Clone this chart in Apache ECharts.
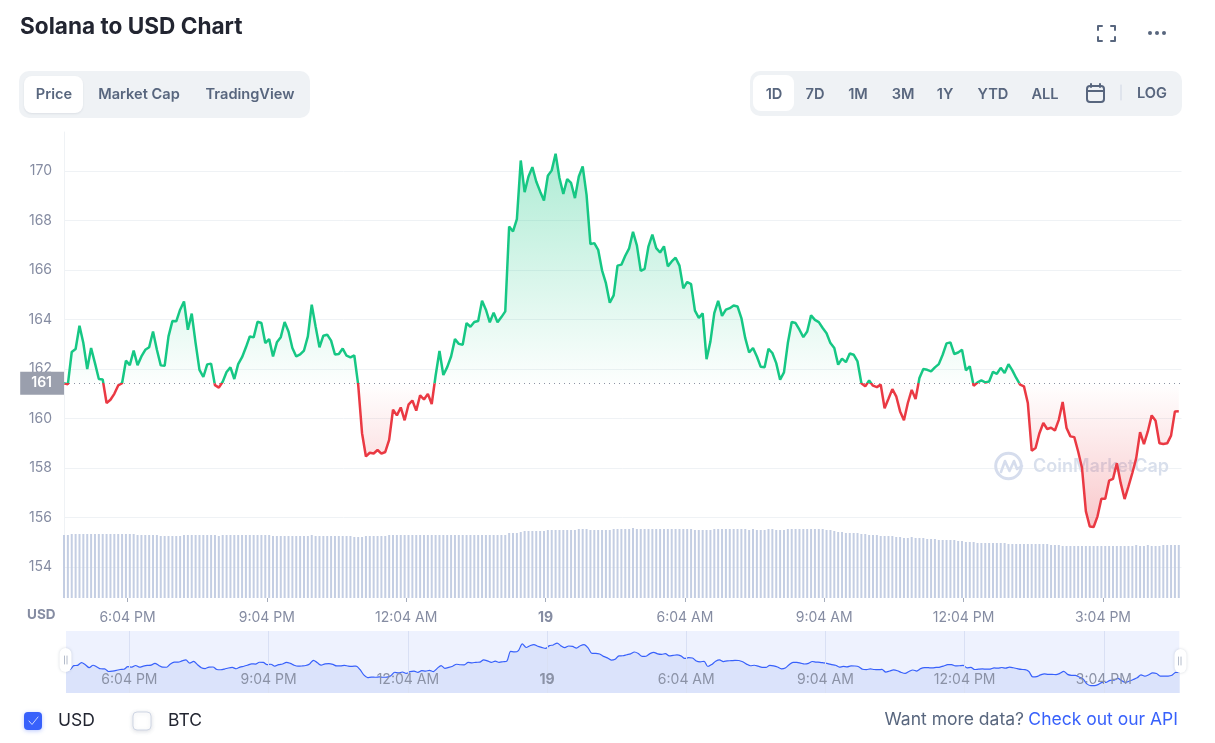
<!DOCTYPE html>
<html>
<head>
<meta charset="utf-8">
<title>Solana to USD Chart</title>
<script src="https://cdn.jsdelivr.net/npm/echarts@6/dist/echarts.min.js"></script>
<style>html,body{margin:0;padding:0;background:#fff;overflow:hidden}#c{width:1215px;height:743px}</style>
</head>
<body>
<div id="c"></div>
<script>
const prices = [
161.43,161.38,162.69,162.81,163.75,163.05,162.0,162.85,162.24,161.6,
161.58,160.63,160.76,161.0,161.34,161.43,162.34,162.16,162.75,162.16,
162.51,162.78,162.88,163.52,162.78,162.15,162.13,163.32,163.94,163.93,
164.4,164.73,163.59,164.24,163.05,161.97,161.68,162.19,162.22,161.35,
161.25,161.49,161.88,162.07,161.6,162.2,162.48,162.88,163.32,163.28,
163.91,163.86,163.05,163.21,162.51,163.08,163.29,163.9,163.52,162.85,
162.51,162.59,162.75,163.32,164.6,163.72,162.88,163.35,163.39,163.15,
162.59,162.61,162.83,162.54,162.47,162.55,161.37,159.41,158.47,158.62,
158.59,158.73,158.58,158.65,159.14,160.36,160.13,160.45,159.93,160.56,
160.73,160.32,160.94,160.77,161.0,160.59,161.73,162.73,161.76,162.08,
162.51,163.21,163.02,162.98,163.86,163.71,163.9,163.94,164.76,164.4,
163.89,164.28,163.89,164.1,164.33,167.76,167.56,168.06,170.43,169.15,
169.78,170.16,169.58,169.18,168.81,169.81,170.03,170.7,169.72,169.08,
169.68,169.52,168.91,169.78,170.19,169.04,167.05,167.09,166.82,165.99,
165.47,164.68,164.98,166.18,166.22,166.58,166.88,167.55,167.0,165.97,
166.05,166.96,167.43,166.89,166.71,166.96,166.15,166.35,166.5,166.18,
165.26,165.52,165.43,164.36,164.07,164.25,162.4,163.12,164.26,164.76,
164.15,164.4,164.46,164.57,164.53,164.06,163.25,162.67,162.85,162.51,
162.09,162.07,162.82,162.65,162.24,161.57,161.87,163.05,163.9,163.86,
163.59,163.29,163.52,164.17,163.99,163.90,163.66,163.45,163.05,162.85,
162.18,162.42,162.28,162.63,162.58,162.31,161.43,161.30,161.54,161.33,
161.27,161.37,160.42,160.80,161.19,160.90,160.29,159.93,160.63,161.16,
160.79,161.64,162.0,161.97,161.91,162.07,162.2,162.58,163.04,163.08,
162.61,162.67,162.78,161.95,162.11,161.33,161.46,161.54,161.46,161.5,
161.89,161.81,162.05,161.84,162.2,161.95,161.64,161.37,161.3,160.63,
158.7,158.81,159.41,159.82,159.58,159.63,159.52,159.95,160.67,159.62,
159.28,159.25,158.67,158.0,156.25,155.64,155.62,156.05,156.76,156.76,
157.49,157.56,158.2,157.39,156.75,157.26,157.8,158.4,159.45,158.97,
159.48,160.13,159.91,159.0,158.97,159.0,159.31,160.29,160.3
];
const volumes = [
3.15,3.15,3.2,3.2,3.2,3.2,3.2,3.2,3.2,3.2,
3.2,3.2,3.2,3.2,3.2,3.2,3.2,3.2,3.2,3.15,
3.15,3.15,3.15,3.15,3.15,3.1,3.1,3.1,3.1,3.1,
3.1,3.15,3.15,3.15,3.15,3.15,3.15,3.15,3.15,3.15,
3.1,3.15,3.15,3.15,3.15,3.15,3.15,3.15,3.15,3.15,
3.15,3.15,3.15,3.15,3.1,3.1,3.1,3.1,3.1,3.1,
3.1,3.1,3.1,3.1,3.15,3.1,3.1,3.1,3.1,3.1,
3.1,3.1,3.1,3.1,3.1,3.05,3.05,3.05,3.1,3.1,
3.1,3.1,3.1,3.1,3.15,3.15,3.15,3.15,3.15,3.15,
3.15,3.15,3.15,3.15,3.15,3.15,3.15,3.15,3.15,3.15,
3.15,3.15,3.15,3.15,3.15,3.15,3.15,3.15,3.15,3.15,
3.15,3.15,3.15,3.15,3.15,3.25,3.25,3.25,3.3,3.35,
3.35,3.35,3.35,3.35,3.35,3.4,3.4,3.4,3.4,3.4,
3.4,3.4,3.4,3.45,3.45,3.45,3.4,3.4,3.4,3.4,
3.4,3.4,3.45,3.45,3.45,3.45,3.45,3.5,3.45,3.45,
3.45,3.45,3.45,3.45,3.45,3.45,3.45,3.45,3.45,3.45,
3.45,3.45,3.45,3.4,3.4,3.4,3.4,3.4,3.45,3.45,
3.45,3.45,3.45,3.45,3.45,3.45,3.45,3.4,3.45,3.4,
3.4,3.4,3.45,3.45,3.4,3.4,3.4,3.45,3.45,3.45,
3.45,3.45,3.45,3.45,3.45,3.45,3.45,3.4,3.4,3.35,
3.3,3.3,3.25,3.25,3.25,3.25,3.2,3.2,3.15,3.15,
3.15,3.1,3.1,3.1,3.1,3.05,3.05,3.0,3.0,3.05,
3.0,3.0,3.0,2.95,2.95,2.95,2.9,2.9,2.9,2.9,
2.9,2.85,2.85,2.8,2.8,2.8,2.75,2.75,2.75,2.75,
2.75,2.75,2.75,2.75,2.7,2.7,2.7,2.7,2.7,2.7,
2.7,2.7,2.7,2.7,2.7,2.65,2.65,2.65,2.6,2.6,
2.6,2.6,2.6,2.6,2.6,2.6,2.6,2.6,2.6,2.6,
2.6,2.6,2.6,2.6,2.6,2.6,2.6,2.65,2.6,2.6,
2.65,2.6,2.6,2.6,2.65,2.65,2.65,2.65,2.65
];
const tickMinutes = [1084,1264,1444,1624,1804,1984,2164,2344];
const tickLabels = ['6:04 PM','9:04 PM','12:04 AM','19','6:04 AM','9:04 AM','12:04 PM','3:04 PM'];
const priceTicks = [154,156,158,160,162,164,166,168,170];
const baseline = 161.43;
const startMinute = 1002;

const pricePts = prices.map((v,i)=>[startMinute+i*5,v]);
const volumePts = volumes.map((v,i)=>[startMinute+i*5,v]);
const fmtX = v => { const i = tickMinutes.indexOf(Math.round(v)); const s = i<0?'':tickLabels[i]; return s==='19'?'{b|19}':s; };

const INK='#222531', SLATE='#58667e', GREY='#858ca2', PANEL='#eff2f5', BLUE='#3861fb';
const txt=(t,x,y,font,fill,align)=>({type:'text',silent:true,z:10,style:{text:t,x,y,font,fill,align:align||'center',verticalAlign:'middle'}});
const box=(x,y,w,h,r,fill,extra)=>({type:'rect',silent:true,z:9,shape:{x,y,width:w,height:h,r},style:Object.assign({fill},extra||{})});
const seg=(x1,y1,x2,y2,stroke,lw)=>({type:'line',silent:true,z:10,shape:{x1,y1,x2,y2},style:{stroke,lineWidth:lw||1,lineCap:'round'}});
const poly=(points,stroke,lw,z)=>({type:'polyline',silent:true,z:z||10,shape:{points},style:{stroke,lineWidth:lw||2,fill:null,lineJoin:'round',lineCap:'round'}});
const tab='600 14.6px Inter';
const graphics=[
  txt('Solana to USD Chart',20,27,'700 22.6px Inter',INK,'left'),
  poly([[1098,30],[1098,26],[1102,26]],SLATE,2),poly([[1111,26],[1115,26],[1115,30]],SLATE,2),
  poly([[1098,37],[1098,41],[1102,41]],SLATE,2),poly([[1111,41],[1115,41],[1115,37]],SLATE,2),
  {type:'circle',silent:true,z:10,shape:{cx:1150,cy:33,r:2},style:{fill:SLATE}},
  {type:'circle',silent:true,z:10,shape:{cx:1157,cy:33,r:2},style:{fill:SLATE}},
  {type:'circle',silent:true,z:10,shape:{cx:1164,cy:33,r:2},style:{fill:SLATE}},
  box(19,71,291,47,10,PANEL),
  box(24,76,59,37,8,'#fff',{shadowBlur:2,shadowColor:'rgba(88,102,126,.12)',shadowOffsetY:1}),
  txt('Price',54,95,tab,SLATE),txt('Market Cap',139,95,tab,SLATE),txt('TradingView',250,95,tab,SLATE),
  box(750,71,432,45,10,PANEL),
  box(753,75,41,36,8,'#fff'),
  txt('1D',774,94.5,tab,SLATE),txt('7D',815,94.5,tab,SLATE),txt('1M',858,94.5,tab,SLATE),
  txt('3M',903,94.5,tab,SLATE),txt('1Y',945,94.5,tab,SLATE),txt('YTD',993,94.5,tab,SLATE),
  txt('ALL',1045,94.5,tab,SLATE),txt('LOG',1152,93.5,tab,SLATE),
  seg(1121,85,1121,100,'#cfd6e4',1),
  {type:'rect',silent:true,z:10,shape:{x:1087,y:86,width:17,height:16,r:3},style:{fill:null,stroke:SLATE,lineWidth:2}},
  seg(1087,91,1104,91,SLATE,2),seg(1091,84,1091,87,SLATE,2),seg(1100,84,1100,87,SLATE,2),
  txt('USD',27,615,'700 13.5px Inter',GREY,'left'),
  {type:'circle',silent:true,z:1,shape:{cx:1008.5,cy:466,r:12.8},style:{fill:null,stroke:'#d6dded',lineWidth:3}},
  poly([[1001,472],[1005,461],[1009.5,471],[1014,461],[1017,469],[1022,466]],'#d6dded',2.6,1),
  {type:'text',silent:true,z:1,style:{text:'CoinMarketCap',x:1033,y:467,font:'600 18px Inter',fill:'#d8dfec',align:'left',verticalAlign:'middle'}},
  box(59.5,648,12,24,6,'#fff',{shadowBlur:3,shadowColor:'rgba(88,102,126,.25)'}),
  seg(64.5,656,64.5,664,'#b4bccb',1),seg(67,656,67,664,'#b4bccb',1),
  box(1174.5,649,12,24,6,'#fff',{shadowBlur:3,shadowColor:'rgba(88,102,126,.25)'}),
  seg(1178.5,657,1178.5,665,'#b4bccb',1),seg(1181,657,1181,665,'#b4bccb',1),
  box(24,712,18,18,4,BLUE,{shadowBlur:4,shadowColor:'rgba(56,97,251,.35)',shadowOffsetY:1}),
  poly([[29,721],[32,724.5],[38,717]],'#cdd8ff',1),
  txt('USD',58,721,'400 17.5px Inter',INK,'left'),
  box(133,712,18,18,4,'#fff',{stroke:'#cfd6e4',lineWidth:1,shadowBlur:4,shadowColor:'rgba(88,102,126,.2)',shadowOffsetY:1}),
  txt('BTC',168,721,'400 17.5px Inter',INK,'left'),
  txt('Want more data?',1024,720,'400 17.5px Inter',SLATE,'right'),
  txt('Check out our API',1178,720,'400 17.5px Inter',BLUE,'right')
];

const chart=echarts.init(document.getElementById('c'));
chart.setOption({
  animation:false,
  backgroundColor:'#fff',
  textStyle:{fontFamily:'Inter'},
  grid:[
    {left:64,top:132,width:1117.5,height:466},
    {left:66,top:631,width:1113.3,height:62,show:true,backgroundColor:'#eef2fe',borderWidth:0}
  ],
  xAxis:[
    {type:'value',gridIndex:0,min:1002,max:2445.5,splitLine:{show:false},axisLine:{show:false},
     axisTick:{show:true,length:4,lineStyle:{color:'#a5acbb'},customValues:tickMinutes},
     axisLabel:{customValues:tickMinutes,formatter:fmtX,color:GREY,fontSize:14,fontFamily:'Inter',margin:13,hideOverlap:false,
       rich:{b:{fontWeight:700,fontSize:14,color:GREY,fontFamily:'Inter'}}}},
    {type:'value',gridIndex:1,min:1002,max:2441.5,z:5,axisLine:{show:false},
     axisTick:{show:false,customValues:tickMinutes},
     splitLine:{show:true,lineStyle:{color:'#d9e0f4',width:1}},
     axisLabel:{customValues:tickMinutes,inside:true,formatter:fmtX,color:'#8b92a6',fontSize:14,fontFamily:'Inter',margin:6,hideOverlap:false,
       rich:{b:{fontWeight:700,fontSize:14,color:'#8b92a6',fontFamily:'Inter'}}}}
  ],
  yAxis:[
    {type:'value',gridIndex:0,min:152.75,max:171.58,
     axisLine:{show:true,lineStyle:{color:PANEL}},
     axisTick:{show:false,customValues:priceTicks},
     splitLine:{show:true,lineStyle:{color:PANEL,width:1}},
     axisLabel:{customValues:priceTicks,color:GREY,fontSize:14,fontFamily:'Inter',margin:12,padding:[4,0,0,0]}},
    {type:'value',gridIndex:0,min:0,max:23.3,show:false,splitLine:{show:false}},
    {type:'value',gridIndex:1,min:153,max:175,show:false,splitLine:{show:false}}
  ],
  graphic:graphics,
  series:[
    {type:'bar',name:'Volume',xAxisIndex:0,yAxisIndex:1,data:volumePts,barWidth:2,silent:true,clip:true,
     itemStyle:{color:'rgba(190,201,224,.9)'}},
    {type:'line',name:'Price',xAxisIndex:0,yAxisIndex:0,data:pricePts,showSymbol:false,smooth:false,z:3,
     lineStyle:{width:2.5,color:{type:'linear',x:0,y:132,x2:0,y2:598,global:true,colorStops:[
        {offset:0,color:'#16c784'},{offset:.539,color:'#16c784'},
        {offset:.539,color:'#ea3943'},{offset:1,color:'#ea3943'}]}},
     areaStyle:{origin:baseline,opacity:1,color:{type:'linear',x:0,y:158,x2:0,y2:527,global:true,colorStops:[
        {offset:0,color:'rgba(22,199,132,.34)'},
        {offset:.61,color:'rgba(22,199,132,.01)'},
        {offset:.61,color:'rgba(234,57,67,0)'},
        {offset:1,color:'rgba(234,57,67,.28)'}]}},
     markLine:{silent:true,symbol:'none',animation:false,
       lineStyle:{color:'#8d93a3',type:[1,4],width:1},
       label:{show:true,position:'start',distance:0,formatter:'161',color:'#fff',fontFamily:'Inter',fontWeight:600,fontSize:14,
         backgroundColor:'#9a9fad',padding:[5,12,4,11],align:'right'},
       data:[{yAxis:baseline}]}},
    {type:'line',name:'Navigator',xAxisIndex:1,yAxisIndex:2,data:pricePts,showSymbol:false,z:3,silent:true,smooth:.3,
     lineStyle:{color:BLUE,width:1.2},areaStyle:{color:'#dbe3fb',opacity:1,origin:'start'}}
  ]
});
</script>
</body>
</html>
